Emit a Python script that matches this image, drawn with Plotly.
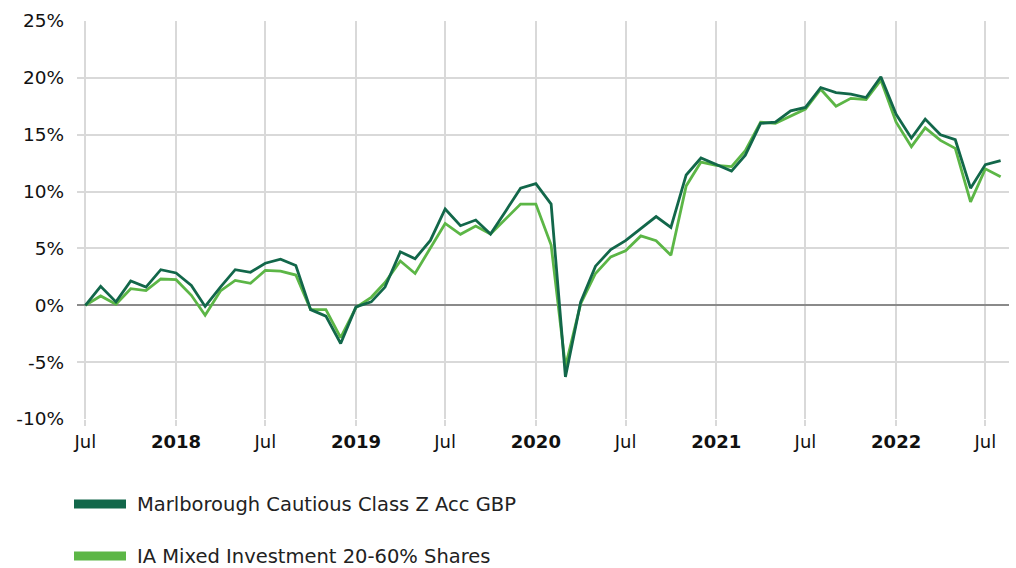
import pandas as pd
import plotly.graph_objects as go

# Monthly cumulative performance (%), Jul 2017 - Aug 2022
months = pd.date_range("2017-07-01", "2022-08-01", freq="MS")

marlborough = [
    0.0, 1.67, 0.3, 2.13, 1.6, 3.13,
    2.84, 1.75, -0.1, 1.6, 3.13, 2.9, 3.7, 4.06, 3.5, -0.38, -0.96, -3.36,
    -0.15, 0.3, 1.6, 4.7, 4.1, 5.7, 8.47, 7.0, 7.5, 6.26, 8.3, 10.3,
    10.7, 8.9, -6.3, 0.3, 3.44, 4.9, 5.68, 6.7, 7.8, 6.85, 11.46, 12.95,
    12.35, 11.8, 13.2, 16.0, 16.1, 17.1, 17.4, 19.15, 18.7, 18.57, 18.27, 20.1,
    16.8, 14.7, 16.37, 15.0, 14.56, 10.3, 12.37, 12.72,
]

ia_mixed = [
    0.0, 0.82, 0.1, 1.46, 1.29, 2.31,
    2.25, 0.88, -0.88, 1.26, 2.19, 1.93, 3.07, 3.0, 2.66, -0.38, -0.38, -2.84,
    -0.2, 0.7, 2.0, 3.9, 2.8, 5.06, 7.2, 6.24, 6.97, 6.26, 7.6, 8.9,
    8.9, 5.3, -5.4, 0.15, 2.8, 4.26, 4.8, 6.1, 5.68, 4.4, 10.5, 12.6,
    12.3, 12.2, 13.6, 16.1, 16.0, 16.6, 17.25, 19.0, 17.5, 18.2, 18.1, 19.8,
    16.1, 13.95, 15.6, 14.5, 13.8, 9.1, 12.0, 11.3,
]

series_names = ["Marlborough Cautious Class Z Acc GBP", "IA Mixed Investment 20-60% Shares"]
series_colors = ["#12674a", "#5cb646"]

x_tickvals = ["2017-07-01", "2018-01-01", "2018-07-01", "2019-01-01", "2019-07-01",
              "2020-01-01", "2020-07-01", "2021-01-01", "2021-07-01", "2022-01-01", "2022-07-01"]
x_ticktext = ["Jul", "<b>2018</b>", "Jul", "<b>2019</b>", "Jul", "<b>2020</b>",
              "Jul", "<b>2021</b>", "Jul", "<b>2022</b>", "Jul"]
y_tickvals = [-10, -5, 0, 5, 10, 15, 20, 25]
y_ticktext = [f"{v}%" for v in y_tickvals]

FONT = "DejaVu Sans, Verdana, sans-serif"

fig = go.Figure()
# light benchmark line first so the fund line sits on top
fig.add_trace(go.Scatter(x=months, y=ia_mixed, mode="lines", name=series_names[1],
                         line=dict(color=series_colors[1], width=2.8)))
fig.add_trace(go.Scatter(x=months, y=marlborough, mode="lines", name=series_names[0],
                         line=dict(color=series_colors[0], width=2.8)))

fig.update_layout(
    width=1016, height=568,
    margin=dict(l=77, r=7, t=21, b=149),
    paper_bgcolor="white", plot_bgcolor="white",
    showlegend=False,
    font=dict(family=FONT, size=18, color="#222222"),
    xaxis=dict(
        type="date",
        range=["2017-06-14", "2022-08-18"],
        tickvals=x_tickvals, ticktext=x_ticktext,
        showgrid=True, gridcolor="#d9d9d9", gridwidth=1.5,
        ticks="outside", ticklen=6, tickcolor="#d9d9d9", tickwidth=1.5,
        showline=False, zeroline=False,
        tickfont=dict(family=FONT, size=18, color="#111111"),
    ),
    yaxis=dict(
        range=[-10, 25],
        tickvals=y_tickvals, ticktext=y_ticktext,
        showgrid=True, gridcolor="#d9d9d9", gridwidth=1.5,
        zeroline=True, zerolinecolor="#8a8a8a", zerolinewidth=1.5,
        showline=False, ticks="", ticklabelstandoff=12,
        tickfont=dict(family=FONT, size=18.5, color="#111111"),
    ),
)

# legend block below the plot
legend_rows = [504, 556]
for name, color, ypx in zip(series_names, series_colors, legend_rows):
    fig.add_shape(type="rect", xref="paper", yref="paper",
                  x0=(74 - 77) / 932, x1=(126 - 77) / 932,
                  y0=(568 - ypx - 4.5 - 149) / 398, y1=(568 - ypx + 4.5 - 149) / 398,
                  fillcolor=color, line=dict(width=0))
    fig.add_annotation(xref="paper", yref="paper",
                       x=(136 - 77) / 932, y=(568 - ypx - 149) / 398,
                       xanchor="left", yanchor="middle", showarrow=False,
                       borderpad=0,
                       text=name, font=dict(family=FONT, size=19.5, color="#222222"))

fig.write_html("out.html")
